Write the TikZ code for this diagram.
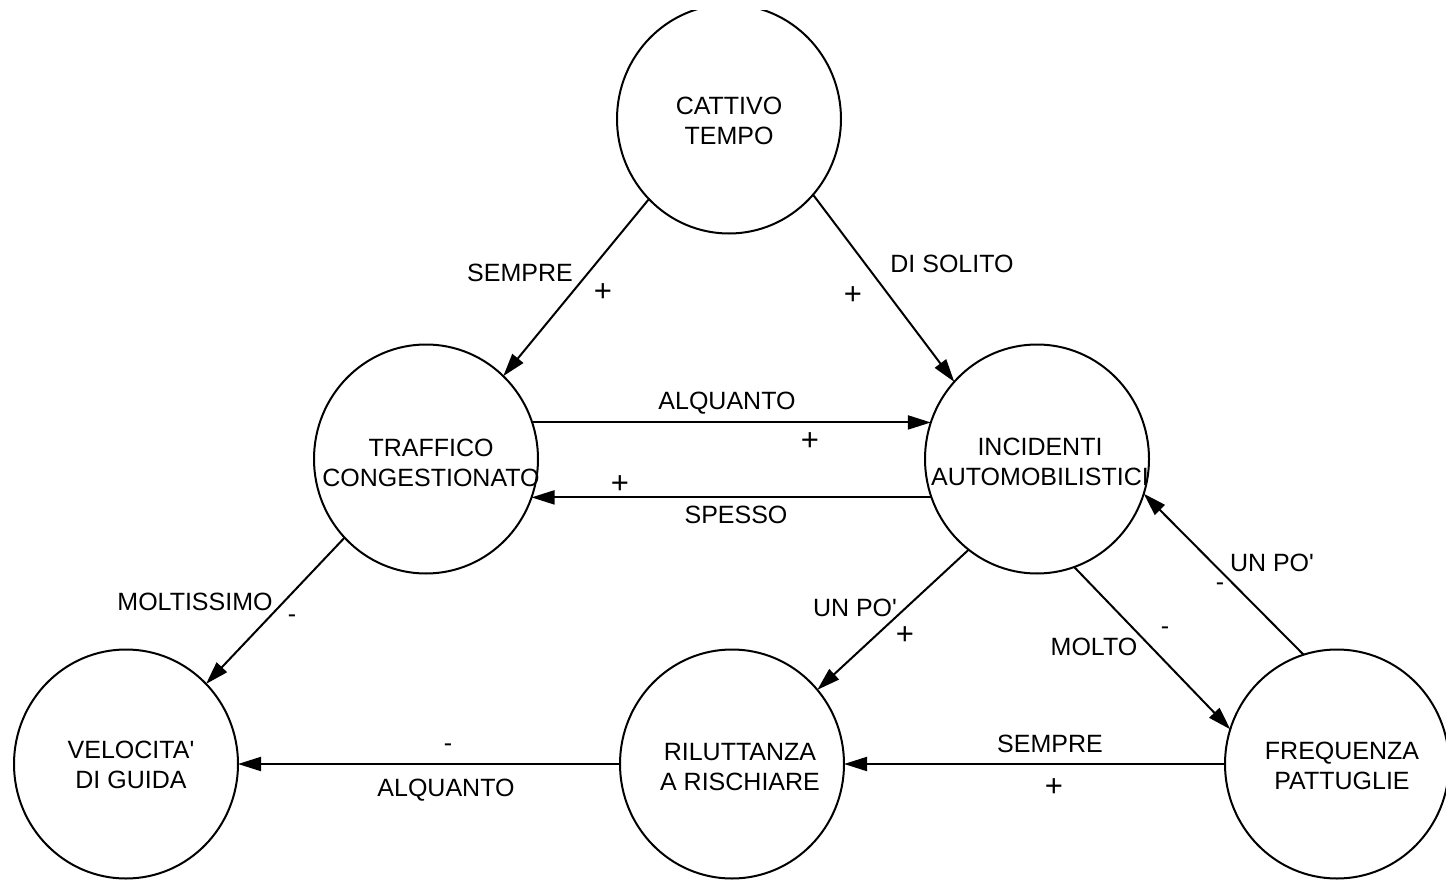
\documentclass[tikz,border=0pt]{standalone}
\usepackage{fontspec}
\setmainfont{Liberation Sans}
\usetikzlibrary{arrows.meta,shapes.geometric}
\newcommand{\diagfont}{\fontsize{25}{30}\selectfont}
\newcommand{\signfont}{\fontsize{31}{31}\selectfont}
\newcommand{\apo}{\textquotesingle}
\begin{document}
\begin{tikzpicture}[x=1pt,y=-1pt,
  state/.style={draw, ellipse, line width=2pt, minimum width=224pt,
    minimum height=229pt, inner sep=0pt, outer sep=0pt},
  txt/.style={inner sep=0pt, align=center, font=\diagfont},
  link/.style={line width=2pt, -{Triangle[length=23pt,width=14pt]}},
  tag/.style={inner sep=0pt, font=\diagfont},
  plus/.style={inner sep=0pt, font=\signfont}]
\useasboundingbox (0,0) rectangle (1446,880);
\begin{scope}
\clip (0,11) rectangle (1446,880);

% states, each with its caption inside
\node[state, label={[txt, yshift=-2pt]center:{CATTIVO\\TEMPO}}]
  (meteo) at (729,119) {};
\node[state, label={[txt, xshift=5pt, yshift=-4pt]center:{TRAFFICO\\CONGESTIONATO}}]
  (traff) at (426,459) {};
\node[state, label={[txt, xshift=3pt, yshift=-3pt]center:{INCIDENTI\\AUTOMOBILISTICI}}]
  (incid) at (1037,459) {};
\node[state, label={[txt, xshift=5pt, yshift=-1pt]center:{VELOCITA\apo\\DI GUIDA}}]
  (veloc) at (126,764) {};
\node[state, label={[txt, xshift=8pt, yshift=-3pt]center:{RILUTTANZA\\A RISCHIARE}}]
  (rilut) at (732,764) {};
\node[state, label={[txt, xshift=5pt, yshift=-2pt]center:{FREQUENZA\\PATTUGLIE}}]
  (pattu) at (1337,764) {};

% influences
\draw[link] (meteo.225) -- (traff.47);
\draw[link] (meteo.318) -- (incid.137);
\draw[link] (traff.19)  -- (incid.161);
\draw[link] (incid.200) -- (traff.340);
\draw[link] (traff.224) -- (veloc.45);
\draw[link] (incid.233) -- (rilut.41);
\draw[link] (incid.289) -- (pattu.162);
\draw[link] (pattu.107) -- (incid.342);
\draw[link] (pattu.180) -- (rilut.0);
\draw[link] (rilut.180) -- (veloc.0);

% strength and sign of each influence
\node[tag]  (t1a) at (520,273) {SEMPRE};
\node[plus] (t1b) at (603,293) {+};
\node[tag]  (t2a) at (952,264) {DI SOLITO};
\node[plus] (t2b) at (853,296) {+};
\node[tag]  (t3a) at (727,403) {ALQUANTO};
\node[plus] (t3b) at (810,442) {+};
\node[tag]  (t4a) at (736,515) {SPESSO};
\node[plus] (t4b) at (620,485) {+};
\node[tag]  (t5a) at (195,602) {MOLTISSIMO};
\node[tag]  (t5b) at (292,619) {-};
\node[tag]  (t6a) at (855,608) {UN PO\apo};
\node[plus] (t6b) at (905,636) {+};
\node[tag]  (t7a) at (1094,647) {MOLTO};
\node[tag]  (t7b) at (1165,631) {-};
\node[tag]  (t8a) at (1272,563) {UN PO\apo};
\node[tag]  (t8b) at (1220,587) {-};
\node[tag]  (t9a) at (1050,744) {SEMPRE};
\node[plus] (t9b) at (1054,788) {+};
\node[tag]  (t10a) at (448,748) {-};
\node[tag]  (t10b) at (446,790) {ALQUANTO};
\end{scope}
\end{tikzpicture}
\end{document}
